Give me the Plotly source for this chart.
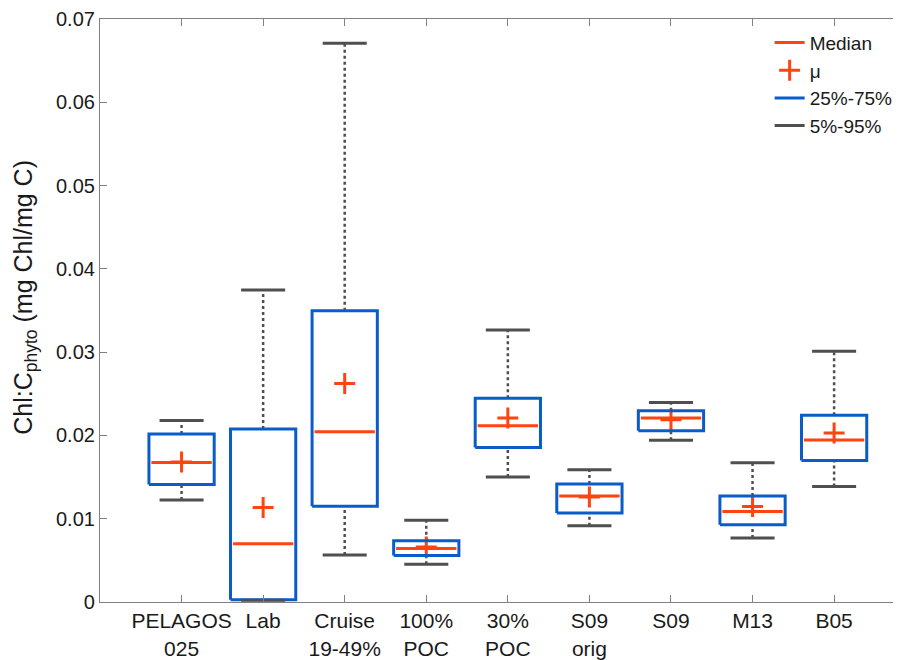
import plotly.graph_objects as go

categories = ["PELAGOS<br>025", "Lab", "Cruise<br>19-49%", "100%<br>POC", "30%<br>POC",
              "S09<br>orig", "S09", "M13", "B05"]
p05 = [0.01225, 0.0002, 0.00565, 0.00453, 0.0150, 0.00915, 0.01941, 0.00767, 0.01388]
q25 = [0.01412, 0.00027, 0.01149, 0.00557, 0.01854, 0.0107, 0.02056, 0.00927, 0.01698]
median = [0.01674, 0.0070, 0.02044, 0.00641, 0.02116, 0.01273, 0.02208, 0.01086, 0.01945]
mean = [0.0168, 0.01134, 0.02625, 0.0066, 0.02208, 0.0126, 0.02188, 0.01146, 0.02029]
q75 = [0.02017, 0.02076, 0.03496, 0.00736, 0.02446, 0.01416, 0.02295, 0.01273, 0.02243]
p95 = [0.0218, 0.03747, 0.0671, 0.00982, 0.03266, 0.01587, 0.02395, 0.01671, 0.0301]

y_tickvals = [0, 0.01, 0.02, 0.03, 0.04, 0.05, 0.06, 0.07]
y_ticktext = ["0", "0.01", "0.02", "0.03", "0.04", "0.05", "0.06", "0.07"]

ORANGE = "#ff4411"
BLUE = "#0a5cc8"
GREY = "#4f4f4f"
BOX_HALF = 0.40
CAP_HALF = 0.27

xs = list(range(1, len(categories) + 1))

# whiskers (dotted)
wx, wy = [], []
for x, a, b, c, d in zip(xs, p05, q25, q75, p95):
    wx += [x, x, None, x, x, None]
    wy += [a, b, None, c, d, None]

# caps
cx, cy = [], []
for x, a, d in zip(xs, p05, p95):
    cx += [x - CAP_HALF, x + CAP_HALF, None, x - CAP_HALF, x + CAP_HALF, None]
    cy += [a, a, None, d, d, None]

# boxes
bx, by = [], []
for x, b, c in zip(xs, q25, q75):
    bx += [x - BOX_HALF, x + BOX_HALF, x + BOX_HALF, x - BOX_HALF, x - BOX_HALF, None]
    by += [b, b, c, c, b, None]

# medians
mx, my = [], []
for x, m in zip(xs, median):
    mx += [x - BOX_HALF + 0.03, x + BOX_HALF - 0.03, None]
    my += [m, m, None]

fig = go.Figure()
fig.add_trace(go.Scatter(x=wx, y=wy, mode="lines", showlegend=False,
                         line=dict(color=GREY, width=2.5, dash="dot"), hoverinfo="skip"))
fig.add_trace(go.Scatter(x=mx, y=my, mode="lines", name="Median",
                         line=dict(color=ORANGE, width=3)))
fig.add_trace(go.Scatter(x=xs, y=mean, mode="markers", name="μ",
                         marker=dict(symbol="cross-thin", size=15, color=ORANGE,
                                     line=dict(color=ORANGE, width=3))))
fig.add_trace(go.Scatter(x=bx, y=by, mode="lines", name="25%-75%",
                         line=dict(color=BLUE, width=3)))
fig.add_trace(go.Scatter(x=cx, y=cy, mode="lines", name="5%-95%",
                         line=dict(color=GREY, width=3)))

fig.add_annotation(text="Chl:C<sub>phyto</sub> (mg Chl/mg C)", textangle=-90,
                   xref="paper", yref="paper", x=-0.094, y=0.523,
                   xanchor="center", yanchor="middle", showarrow=False,
                   font=dict(size=25, color="#1a1a1a"))

fig.update_layout(
    width=893, height=652,
    margin=dict(l=92, r=0, t=9, b=56),
    paper_bgcolor="white", plot_bgcolor="white",
    font=dict(family="Liberation Sans, Arial, sans-serif", color="#1a1a1a"),
    legend=dict(x=0.836, y=0.992, xanchor="left", yanchor="top",
                bgcolor="rgba(0,0,0,0)", font=dict(size=19), tracegroupgap=0),
    xaxis=dict(range=[0, 9.82], tickmode="array", tickvals=xs, ticktext=categories,
               showgrid=False, zeroline=False, showline=True, linecolor="#808080",
               linewidth=1.2, mirror="ticks", ticks="inside", ticklen=7,
               tickcolor="#808080", tickfont=dict(size=21, color="#1a1a1a"),
               ticklabeloverflow="allow"),
    yaxis=dict(range=[0, 0.07], tickmode="array", tickvals=y_tickvals,
               ticktext=y_ticktext, showgrid=False, zeroline=False,
               showline=True, linecolor="#808080", linewidth=1.2, ticks="inside",
               ticklen=7, tickcolor="#808080", tickfont=dict(size=20, color="#1a1a1a"),
               ticklabeloverflow="allow"),
)

fig.write_html("out.html")
